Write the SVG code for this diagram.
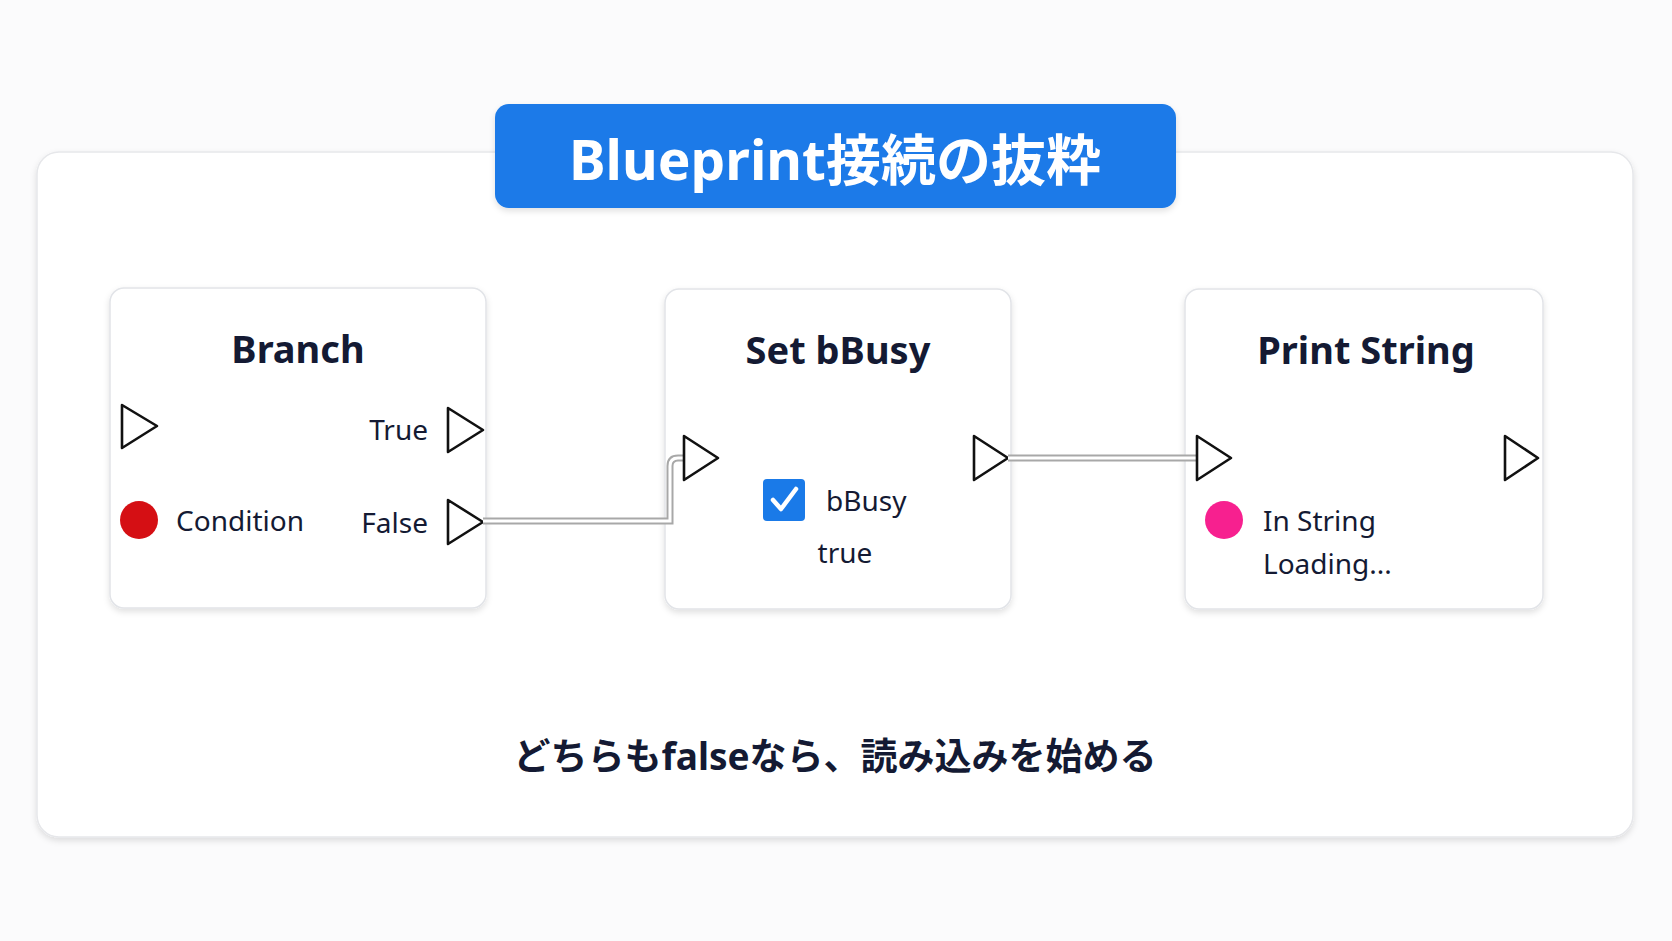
<svg xmlns="http://www.w3.org/2000/svg" width="1672" height="941" viewBox="0 0 1672 941">
<defs>
<filter id="sh" x="-10%" y="-10%" width="120%" height="130%"><feDropShadow dx="0" dy="3" stdDeviation="3" flood-color="#000" flood-opacity="0.12"/></filter>
</defs>
<style>
text{font-family:"Noto Sans","Noto Sans CJK JP",sans-serif;fill:#141a33}
.t{font-size:38px;font-weight:bold;text-anchor:middle}
.l{font-size:28px}
.node{fill:#fff;stroke:#e2e4e8;stroke-width:1.5}
.pin{fill:#fff;stroke:#111;stroke-width:2.6;stroke-linejoin:round}
.wo{fill:none;stroke:#a8a8a8;stroke-width:7}
.wi{fill:none;stroke:#fff;stroke-width:3}
</style>
<rect width="1672" height="941" fill="#fbfbfc"/>
<rect x="37" y="152" width="1596" height="685" rx="22" fill="#fff" stroke="#e6e7ea" stroke-width="1.5" filter="url(#sh)"/>
<g id="title">
<rect x="495" y="104" width="681" height="104" rx="14" fill="#1a7ae8" filter="url(#sh)"/>
<text x="835" y="180" text-anchor="middle" style="font-size:55px;font-weight:bold;fill:#fff">Blueprint接続の抜粋</text>
</g>
<g id="branch">
<rect class="node" x="110" y="288" width="376" height="320" rx="14" filter="url(#sh)"/>
<text class="t" x="298" y="363">Branch</text>
<path class="pin" d="M122,405 L157,426 L122,448 Z"/>
<text class="l" x="428" y="440" text-anchor="end">True</text>
<path class="pin" d="M448,408 L483,430 L448,452 Z"/>
<circle cx="139" cy="520" r="19" fill="#d50f14"/>
<text class="l" x="176" y="531">Condition</text>
<text class="l" x="428" y="533" text-anchor="end">False</text>
<path class="pin" d="M448,500 L483,522 L448,544 Z"/>
</g>
<g id="setbbusy">
<rect class="node" x="665" y="289" width="346" height="320" rx="14" filter="url(#sh)"/>
<text class="t" x="838" y="364">Set bBusy</text>
<path class="pin" d="M974,436 L1008,458 L974,480 Z"/>
<rect x="763" y="479" width="42" height="42" rx="4" fill="#1a7ae8"/>
<path d="M773,500 L781,509 L796,489" fill="none" stroke="#fff" stroke-width="4.5" stroke-linecap="round" stroke-linejoin="round"/>
<text class="l" x="826" y="511">bBusy</text>
<text class="l" x="845" y="563" text-anchor="middle">true</text>
</g>
<g id="printstring">
<rect class="node" x="1185" y="289" width="358" height="320" rx="14" filter="url(#sh)"/>
<text class="t" x="1366" y="364">Print String</text>
<path class="pin" d="M1505,436 L1538,458 L1505,480 Z"/>
<circle cx="1224" cy="520" r="19" fill="#f7208f"/>
<text class="l" x="1263" y="531">In String</text>
<text class="l" x="1263" y="574">Loading...</text>
</g>
<g id="connectors">
<path class="wo" d="M483,521 H670 V466 Q670,458 678,458 H684"/>
<path class="wi" d="M483,521 H670 V466 Q670,458 678,458 H684"/>
<path class="wo" d="M1008,458 H1197"/>
<path class="wi" d="M1008,458 H1197"/>
<path class="pin" d="M684,436 L718,458 L684,480 Z"/>
<path class="pin" d="M1197,436 L1231,458 L1197,480 Z"/>
</g>
<text x="835" y="770" text-anchor="middle" style="font-size:37px;font-weight:bold">どちらもfalseなら、読み込みを始める</text>
</svg>
